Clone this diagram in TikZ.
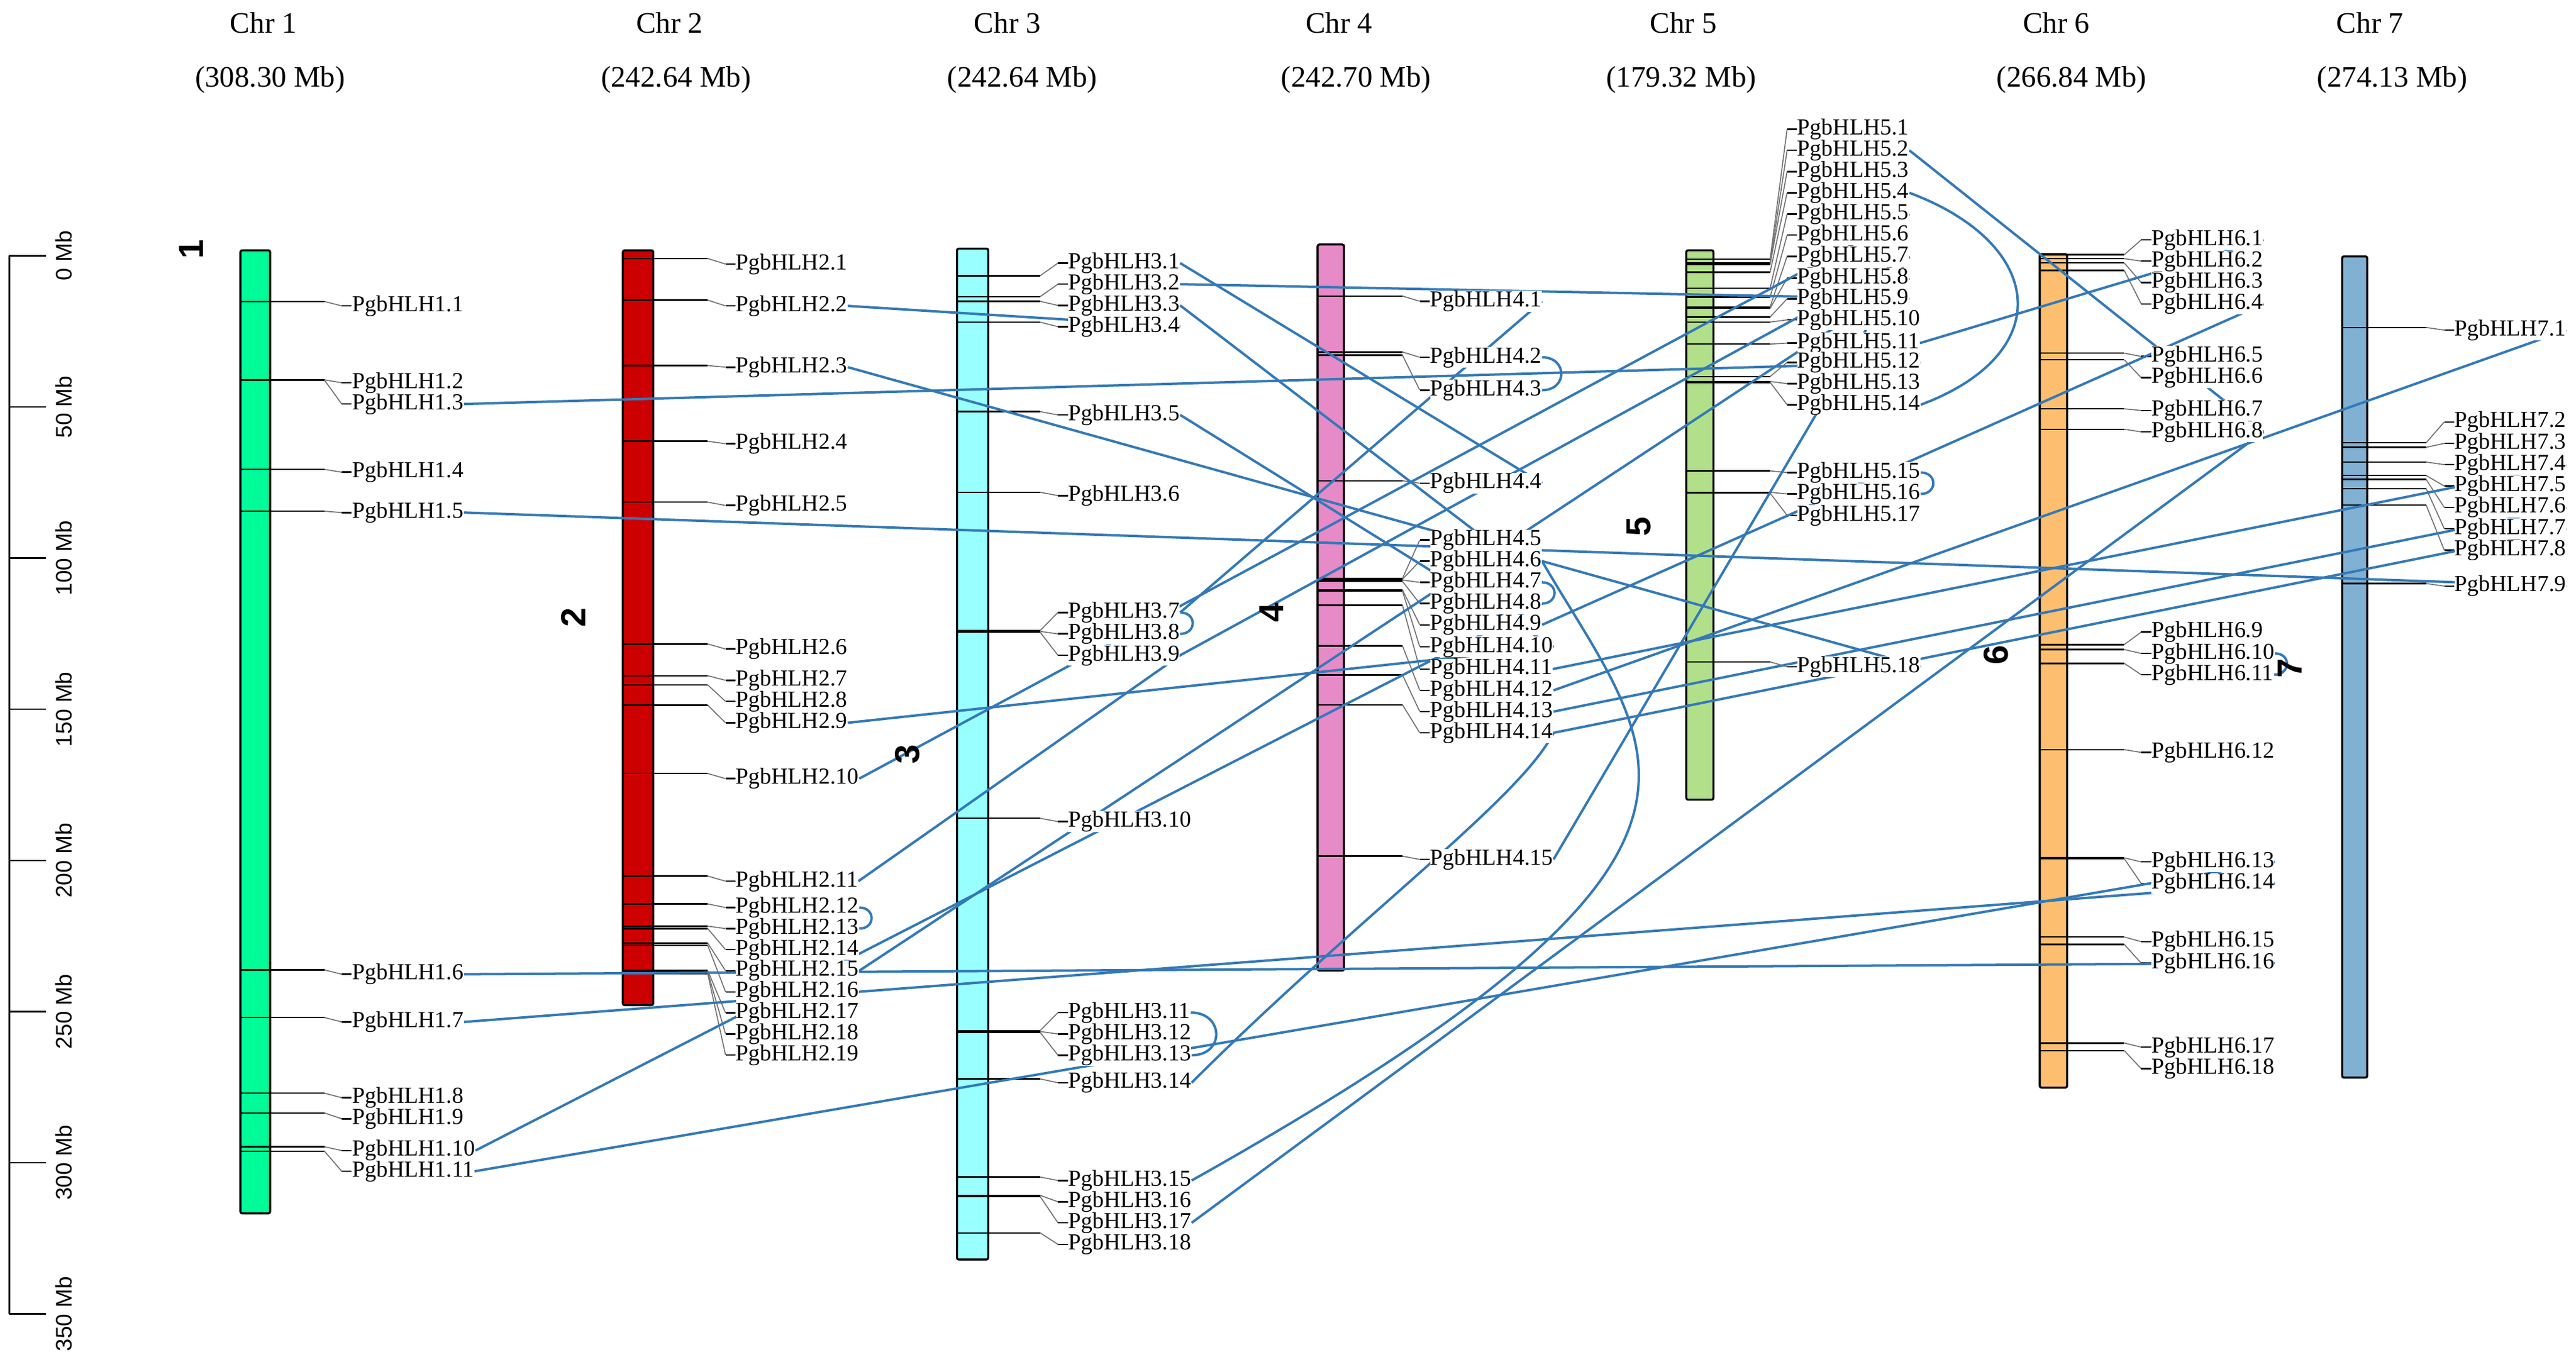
\documentclass[tikz,border=0pt]{standalone}
\usepackage{fontspec}
\setmainfont{Liberation Serif}
\newfontfamily\sansf{Liberation Sans}
\pgfdeclarelayer{bars}\pgfdeclarelayer{ticks}\pgfdeclarelayer{links}
\pgfsetlayers{bars,ticks,links,main}
\definecolor{cA}{RGB}{0,252,152}
\definecolor{cB}{RGB}{204,0,0}
\definecolor{cC}{RGB}{153,255,255}
\definecolor{cD}{RGB}{231,138,200}
\definecolor{cE}{RGB}{178,223,138}
\definecolor{cF}{RGB}{253,191,111}
\definecolor{cG}{RGB}{128,177,211}
\definecolor{linkblue}{RGB}{52,121,183}
\tikzset{
 lab/.style={anchor=west,fill=white,inner sep=0pt,font=\fontsize{9.9}{10}\selectfont},
 tk/.style={line width=0.65pt,black},
 gc/.style={line width=0.45pt,black!55},
 lk/.style={line width=1.05pt,linkblue},
 chrbar/.style={draw=black,line width=0.9pt,rounded corners=0.8pt},
 ttl/.style={font=\fontsize{12.8}{13}\selectfont},
 axl/.style={font=\sansf\fontsize{9.7}{10}\selectfont,rotate=90},
 num/.style={font=\sansf\bfseries\fontsize{15}{15}\selectfont,rotate=90},
}
\newcommand\genes[5]{%
 \foreach \i/\t/\l in {#5}{%
   \node[lab] (g#1-\i) at (#4+6,\l) {PgbHLH#1.\i};
   \begin{pgfonlayer}{ticks}
   \draw[tk] (#2,\t) -- (#3,\t);
   \draw[gc] (#3,\t) -- (#4,\l);
   \draw[tk] (#4,\l) -- (#4+6,\l);
   \end{pgfonlayer}
 }}
\begin{document}
\begin{tikzpicture}[x=0.25mm,y=-0.25mm]
\useasboundingbox (0,0) rectangle (1564,826.9);
% scale axis
\draw[line width=0.8pt] (5.7,155.4) -- (5.7,798);
\foreach \k in {0,...,7}{
  \draw[line width=0.6pt] (5.7,155.4+\k*91.8) -- (28,155.4+\k*91.8);
  \pgfmathtruncatemacro\mb{50*\k}
  \node[axl] (ax\k) at (38.6,155.4+\k*91.8) {\mb\ Mb};
}
% titles
\foreach \n/\x/\xx/\s in {1/160/164/308.30,2/406.5/410.4/242.64,3/611.7/620.7/242.64,4/813/823.4/242.70,5/1022/1020.8/179.32,6/1248.4/1257.8/266.84,7/1438.9/1452.4/274.13}{
  \node[ttl] (t\n) at (\x,14) {Chr \n};
  \node[ttl] (s\n) at (\xx,48.5) {(\s\ Mb)};
}
% chromosome numbers
\foreach \n/\x/\y in {1/116/151.3,2/348/375,3/551/458,4/772/372,5/995/320,6/1212/398,7/1390.3/405.9}{
  \node[num] (n\n) at (\x,\y) {\n};
}
% bars
\begin{pgfonlayer}{bars}
\draw[chrbar,fill=cA] (146,152) rectangle (164,737);
\draw[chrbar,fill=cB] (378.2,152) rectangle (396.6,610.5);
\draw[chrbar,fill=cC] (581,151) rectangle (600,765);
\draw[chrbar,fill=cD] (800,148.5) rectangle (816,589.5);
\draw[chrbar,fill=cE] (1023.8,152) rectangle (1040.3,485.7);
\draw[chrbar,fill=cF] (1238.4,154.3) rectangle (1255,660.6);
\draw[chrbar,fill=cG] (1422,155.7) rectangle (1437.2,654.5);
\end{pgfonlayer}
% genes
\genes{1}{146}{197}{207.5}{1/183.1/185.8,2/230.7/232.5,3/230.9/245.4,4/285.1/286.8,5/310.5/311.3,6/589.1/591.7,7/618/620.7,8/664/666.7,9/676/679.5,10/696.5/698.8,11/699.2/711.4}
\genes{2}{378.2}{429.7}{440.5}{1/157/160.4,2/182.3/185.8,3/222/223,4/268/269.5,5/305/307,6/391.1/394.2,7/410.4/413.2,8/416/426,9/428.3/439,10/469.8/472.9,11/532.1/535.2,12/549/551.2,13/562.5/564,14/564/576.8,15/572.8/589.6,16/574.2/602.4,17/589.5/615.2,18/590.5/628,19/591.5/640.8}
\genes{3}{581}{631.5}{642.3}{1/167.5/159.8,2/180.2/172.6,3/183/185.5,4/195.7/198.4,5/250/252,6/299/301,7/383/372,8/383.5/385,9/384/398,10/497/499,11/626/615,12/626.5/628,13/627/640.9,14/655.3/657.6,15/714.9/717,16/726/729.9,17/726.7/742.7,18/748.8/755.8}
\genes{4}{800}{851.5}{862}{1/179.8/183,2/213.8/217,3/215.8/237,4/292/293.5,5/351.3/328,6/351.8/340.8,7/352.3/353.7,8/353.1/366.6,9/358.3/379.5,10/359/392.9,11/367.6/406.4,12/392.3/419.3,13/409.9/432.2,14/428.1/445.1,15/520/522}
\genes{5}{1023.8}{1074.7}{1085}{1/157.5/78.5,2/159.6/91.3,3/160.6/104.2,4/165.3/117.1,5/175.1/130,6/180.5/142.8,7/186.4/155.7,8/187.3/169,9/192.5/181.5,10/195.6/194.3,11/209/208.4,12/228.7/220.1,13/231.7/233,14/232.2/245.8,15/286/287,16/299/300,17/299.5/313,18/402/405}
\genes{6}{1238.4}{1289.7}{1300}{1/154.7/145.7,2/157.1/158.6,3/159.7/171.6,4/164.2/184.6,5/214.5/216.5,6/218.5/229.4,7/248.3/249.3,8/260.7/262.3,9/391.5/383.9,10/394.5/396.9,11/402.9/409.8,12/455.3/457,13/521/523.5,14/521.5/536.6,15/569.1/571.9,16/573.6/585,17/633.5/636,18/638.1/649.1}
\genes{7}{1422}{1473}{1484}{1/198.9/200.5,2/268.9/256.3,3/271.7/269.3,4/280.6/282.2,5/288.8/295.2,6/291.2/308.2,7/296.8/321.1,8/306.8/334.1,9/354.4/356}
% links
\begin{pgfonlayer}{links}
\foreach \a/\b in {g1-3/g5-12,g1-5/g7-9,g1-6/g6-16,g1-7/g6-14,g1-10/g4-8,g1-11/g6-13,g2-2/g3-4,g2-3/g4-6,g2-9/g4-10,g2-10/g5-5,g2-11/g3-9,g2-15/g5-8,g3-1/g4-4,g3-2/g5-9,g3-3/g4-7,g3-5/g4-10,g3-7/g4-1,g3-9/g5-7,g4-15/g5-7,g3-17/g6-8,g4-9/g6-4,g4-11/g7-4,g4-12/g7-1,g4-13/g7-6,g4-14/g7-7,g4-6/g5-18,g5-2/g6-8,g5-11/g6-1}{
  \draw[lk] (\a.east) -- (\b.east);
}
\foreach \a/\b in {g2-12/g2-13,g3-7/g3-8,g3-11/g3-13,g4-2/g4-3,g4-7/g4-8,g5-15/g5-16,g6-10/g6-11}{
  \draw[lk] (\a.east) to[out=0,in=0,looseness=2] (\b.east);
}
\draw[lk] (g5-4.east) .. controls +(83,31) and +(83,-31) .. (g5-14.east);
\draw[lk] (g4-6.east) .. controls (1006,461) and (1082.5,515.4) .. (g3-15.east);
\draw[lk] (g4-14.east) .. controls +(-20,40) and +(100,-100) .. (g3-14.east);
\end{pgfonlayer}
\end{tikzpicture}
\end{document}
